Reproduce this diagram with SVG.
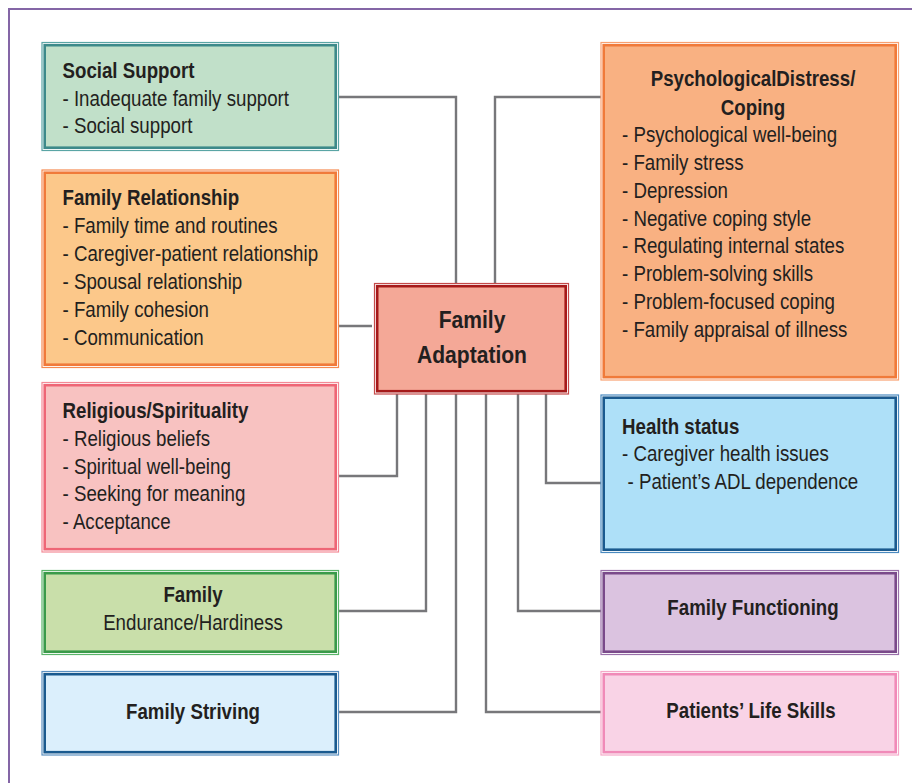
<svg xmlns="http://www.w3.org/2000/svg" width="912" height="783" viewBox="0 0 912 783">
<style>
.o{fill:#fff;stroke-width:1.2}
.i{stroke-width:2.6}
.t{font-family:"Liberation Sans",Arial,sans-serif;font-size:22px;fill:#231f20}
.b{font-weight:bold}
.c{text-anchor:middle}
.cn{fill:none;stroke:#77777a;stroke-width:2.4}
</style>
<rect width="912" height="783" fill="#fff"/>
<rect x="9" y="9" width="930" height="800" fill="none" stroke="#8466a6" stroke-width="2"/>
<g id="connectors" class="cn">
<polyline points="338,97 456,97 456,284"/>
<polyline points="338,326 372,326"/>
<polyline points="601,97 495,97 495,284"/>
<polyline points="338,476 397,476 397,394"/>
<polyline points="338,611 426,611 426,394"/>
<polyline points="338,712 456,712 456,394"/>
<polyline points="601,712 486,712 486,394"/>
<polyline points="601,611 518,611 518,394"/>
<polyline points="607,483 546,483 546,394"/>
</g>
<g id="social-support">
<rect class="o" x="42" y="42.5" width="296.5" height="108" stroke="#5aa5a5"/>
<rect class="i" x="44.7" y="45.2" width="291" height="102.5" fill="#c1e0c9" stroke="#3d8a8a"/>
<text class="t" transform="matrix(.85 0 0 1 62.5 0)"><tspan class="b" x="0" y="78">Social Support</tspan><tspan x="0" y="106">- Inadequate family support</tspan><tspan x="0" y="133.5">- Social support</tspan></text>
</g>
<g id="family-relationship">
<rect class="o" x="42" y="170" width="296.5" height="197.5" stroke="#f58a50"/>
<rect class="i" x="44.7" y="172.7" width="291" height="192" fill="#fcc88a" stroke="#f07a3a"/>
<text class="t" transform="matrix(.85 0 0 1 62.5 0)"><tspan class="b" x="0" y="205.5">Family Relationship</tspan><tspan x="0" y="233">- Family time and routines</tspan><tspan x="0" y="261">- Caregiver-patient relationship</tspan><tspan x="0" y="289">- Spousal relationship</tspan><tspan x="0" y="317">- Family cohesion</tspan><tspan x="0" y="345">- Communication</tspan></text>
</g>
<g id="religious-spirituality">
<rect class="o" x="42" y="382.5" width="296.5" height="169.5" stroke="#f38a96"/>
<rect class="i" x="44.7" y="385.2" width="291" height="164" fill="#f8c2c1" stroke="#ee6676"/>
<text class="t" transform="matrix(.85 0 0 1 62.5 0)"><tspan class="b" x="0" y="418">Religious/Spirituality</tspan><tspan x="0" y="446">- Religious beliefs</tspan><tspan x="0" y="474">- Spiritual well-being</tspan><tspan x="0" y="501.5">- Seeking for meaning</tspan><tspan x="0" y="529">- Acceptance</tspan></text>
</g>
<g id="family-endurance">
<rect class="o" x="42" y="570.5" width="296.5" height="84" stroke="#5ab56a"/>
<rect class="i" x="44.7" y="573.2" width="291" height="78.5" fill="#c9dfaa" stroke="#3a9a4a"/>
<text class="t c" transform="matrix(.85 0 0 1 193 0)"><tspan class="b" x="0" y="602.5">Family</tspan><tspan x="0" y="630">Endurance/Hardiness</tspan></text>
</g>
<g id="family-striving">
<rect class="o" x="42" y="671.5" width="296.5" height="83.5" stroke="#5a8fc0"/>
<rect class="i" x="44.7" y="674.2" width="291" height="78" fill="#dbeffc" stroke="#1a5a8f"/>
<text class="t c b" transform="matrix(.85 0 0 1 193 0)" x="0" y="719">Family Striving</text>
</g>
<g id="psychological-distress">
<rect class="o" x="601" y="42.5" width="297.5" height="337.5" stroke="#f8a070"/>
<rect class="i" x="603.7" y="45.2" width="292" height="332" fill="#f9b182" stroke="#f07a3a"/>
<text class="t b c" transform="matrix(.85 0 0 1 753 0)"><tspan x="0" y="86.5">PsychologicalDistress/</tspan><tspan x="0" y="115">Coping</tspan></text>
<text class="t" transform="matrix(.85 0 0 1 622 0)"><tspan x="0" y="142.5">- Psychological well-being</tspan><tspan x="0" y="170">- Family stress</tspan><tspan x="0" y="198">- Depression</tspan><tspan x="0" y="226">- Negative coping style</tspan><tspan x="0" y="253.5">- Regulating internal states</tspan><tspan x="0" y="281">- Problem-solving skills</tspan><tspan x="0" y="309">- Problem-focused coping</tspan><tspan x="0" y="337">- Family appraisal of illness</tspan></text>
</g>
<g id="health-status">
<rect class="o" x="601" y="395" width="297.5" height="157.5" stroke="#4a8ac0"/>
<rect class="i" x="603.7" y="397.7" width="292" height="152" fill="#aee0f8" stroke="#1a5a8f"/>
<text class="t" transform="matrix(.85 0 0 1 622 0)"><tspan class="b" x="0" y="434">Health status</tspan><tspan x="0" y="461.5">- Caregiver health issues</tspan><tspan x="6.5" y="489">- Patient’s ADL dependence</tspan></text>
</g>
<g id="family-functioning">
<rect class="o" x="601" y="570.5" width="297.5" height="84" stroke="#9a70aa"/>
<rect class="i" x="603.7" y="573.2" width="292" height="78.5" fill="#dbc3e0" stroke="#7a4a8a"/>
<text class="t c b" transform="matrix(.85 0 0 1 753 0)" x="0" y="615">Family Functioning</text>
</g>
<g id="patients-life-skills">
<rect class="o" x="601" y="671.5" width="297.5" height="83.5" stroke="#f5a8c8"/>
<rect class="i" x="603.7" y="674.2" width="292" height="78" fill="#f9d3e6" stroke="#f08ab8"/>
<text class="t c b" transform="matrix(.85 0 0 1 751 0)" x="0" y="718.5">Patients’ Life Skills</text>
</g>
<g id="family-adaptation">
<rect class="o" x="374.5" y="283.5" width="194" height="110.5" stroke="#c54a4a"/>
<rect class="i" x="377.2" y="286.2" width="188.5" height="105" fill="#f4a897" stroke="#a51a1a"/>
<text class="t c b" transform="matrix(.86 0 0 1 472 0)" style="font-size:24.5px"><tspan x="0" y="328">Family</tspan><tspan x="0" y="363.5">Adaptation</tspan></text>
</g>
</svg>
